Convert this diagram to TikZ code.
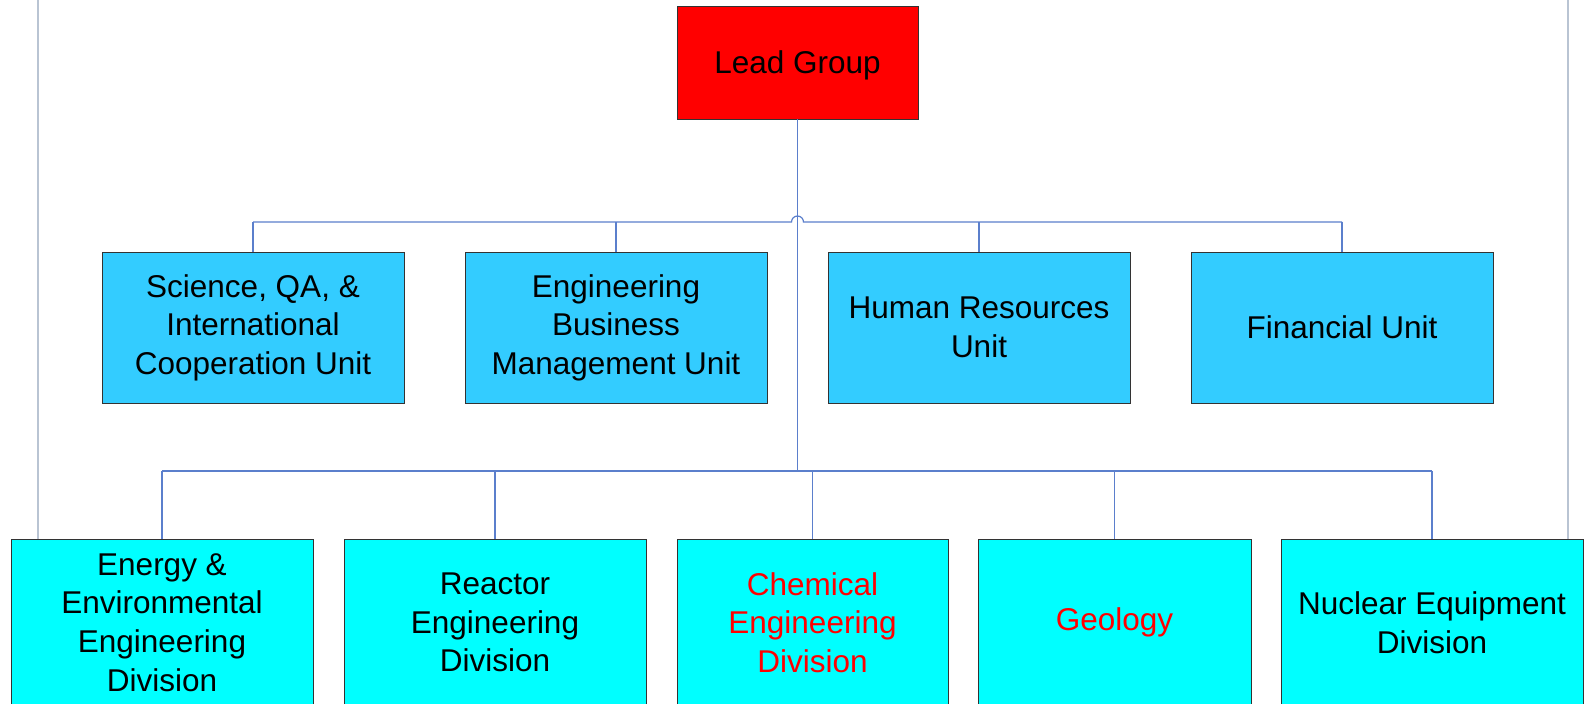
\documentclass[tikz,border=0pt]{standalone}
\usepackage{fontspec}
\setmainfont{Liberation Sans}
\definecolor{leadred}{HTML}{FF0000}
\definecolor{unitblue}{HTML}{33CCFF}
\definecolor{divcyan}{HTML}{00FFFF}
\definecolor{linkblue}{HTML}{5B7FCC}
\definecolor{sidegray}{HTML}{B9C4D3}
\begin{document}
\begin{tikzpicture}[x=1pt,y=1pt,
  box/.style={draw=black!80, line width=0.9pt, align=center, inner sep=0pt,
    font=\fontsize{31.5}{38.6}\selectfont},
  leadbox/.style={box, fill=leadred, minimum width=241pt, minimum height=113pt, text depth=0pt},
  unitbox/.style={box, fill=unitblue, minimum width=302pt, minimum height=151pt},
  divbox/.style={box, fill=divcyan, minimum height=167pt},
  link/.style={draw=linkblue, line width=1.2pt},
  side/.style={draw=sidegray, line width=1.8pt},
  redtext/.style={text=leadred}]
\useasboundingbox (0,0) rectangle (1593,-704);
\fill[white] (0,0) rectangle (1593,-704);

% bus levels
\coordinate (bus1) at (0,-222);
\coordinate (bus2) at (0,-471);
\coordinate (sideL) at (38,0);
\coordinate (sideR) at (1568,0);

% top
\node[leadbox] (lead) at (797.5,-62.5) {Lead Group};

% units
\node[unitbox] (u1) at (253,-327.5) {Science, QA, \&\\International\\Cooperation Unit};
\node[unitbox] (u2) at (616,-327.5) {Engineering\\Business\\Management Unit};
\node[unitbox] (u3) at (979,-327.5) {Human Resources\\Unit};
\node[unitbox] (u4) at (1342,-327.5) {Financial Unit};

% divisions
\node[divbox, minimum width=302pt] (d1) at (162,-622.5) {Energy \&\\Environmental\\Engineering\\Division};
\node[divbox, minimum width=302pt] (d2) at (495,-622.5) {Reactor\\Engineering\\Division};
\node[divbox, minimum width=271pt, redtext] (d3) at (812.5,-622.5) {Chemical\\Engineering\\Division};
\node[divbox, minimum width=273pt, redtext] (d4) at (1114.5,-622.5) {Geology};
\node[divbox, minimum width=302pt] (d5) at (1432,-622.5) {Nuclear Equipment\\Division};

% side rules
\draw[side] (sideL) -- (sideL |- d1.north);
\draw[side] (sideR) -- (sideR |- d5.north);

% trunk
\draw[link] (lead.south) -- (lead.south |- bus2);

% unit bus with hop over the trunk
\draw[link] (u1.north |- bus1) -- ([xshift=-6pt]lead.south |- bus1)
  arc (180:0:6) -- (u4.north |- bus1);
\foreach \n in {u1,u2,u3,u4}
  \draw[link] (\n.north) -- (\n.north |- bus1);

% division bus
\draw[link] (d1.north |- bus2) -- (d5.north |- bus2);
\foreach \n in {d1,d2,d3,d4,d5}
  \draw[link] (\n.north) -- (\n.north |- bus2);
\end{tikzpicture}
\end{document}
